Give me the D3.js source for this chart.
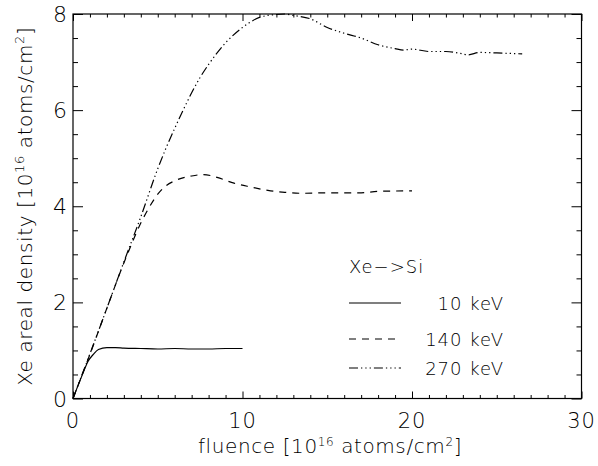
<html>
<meta charset="utf-8" />
<head>
<title>Xe areal density</title>
<script src="https://cdn.jsdelivr.net/npm/d3@7"></script>
<style>
	body { margin: 0; background: #fff; }
	svg text { font-family: "DejaVu Sans", sans-serif; font-weight: 200; fill: #000; }
</style>
<script>
// fluence [1e16 atoms/cm2] and areal density [1e16 atoms/cm2]
const fluence10 = [0, 0.5, 0.9, 1.2, 1.5, 2, 2.5, 3, 4, 5, 6, 7, 8, 9, 10];
const density10 = [0, 0.45, 0.78, 0.92, 1.02, 1.06, 1.06, 1.05, 1.04, 1.03, 1.04, 1.03, 1.03, 1.04, 1.04];

const fluence140 = [0, 1, 2, 3, 3.5, 4, 4.5, 5, 5.5, 6, 7, 7.7, 8.5, 9.5, 10.5, 11.5, 12.5, 13.5, 15, 17, 18, 20];
const density140 = [0, 0.92, 1.88, 2.82, 3.25, 3.65, 3.98, 4.25, 4.43, 4.53, 4.63, 4.66, 4.6, 4.48, 4.4, 4.33, 4.29, 4.27, 4.28, 4.28, 4.31, 4.32];

const fluence270 = [0, 1, 2, 3, 4, 5, 5.5, 6, 6.5, 7, 7.5, 8, 9, 10, 10.5, 11, 12, 12.5, 13, 14, 15, 16, 17, 18, 19, 19.5, 20, 21, 22, 23, 23.3, 24, 25, 26.5];
const density270 = [0, 0.93, 1.88, 2.84, 3.78, 4.78, 5.22, 5.62, 6.0, 6.36, 6.68, 6.95, 7.4, 7.72, 7.84, 7.93, 7.99, 8.0, 7.97, 7.9, 7.72, 7.6, 7.5, 7.36, 7.28, 7.25, 7.27, 7.22, 7.22, 7.17, 7.15, 7.2, 7.19, 7.17];

const seriesNames = ['10 keV', '140 keV', '270 keV'];
const xMajor = [0, 10, 20, 30];
const yMajor = [0, 2, 4, 6, 8];

window.onload = function() {
	let svg = d3.select('svg');
	let left = 73, right = 581.5, top = 14, bottom = 398.5;

	let xScale = d3.scaleLinear().domain([0, 30]).range([left, right]);
	let yScale = d3.scaleLinear().domain([0, 8]).range([bottom, top]);

	let xMinor = d3.range(0, 31, 1).filter(v => xMajor.indexOf(v) < 0);
	let yMinor = d3.range(0, 8.01, 0.5).filter(v => yMajor.indexOf(v) < 0);

	// ticks pointing inward on all four sides
	function addAxis(axis, tx, ty) {
		let g = svg.append('g').attr('transform', 'translate(' + tx + ',' + ty + ')').call(axis);
		g.selectAll('text').remove();
		g.select('.domain').remove();
		g.selectAll('line').attr('stroke', '#000').attr('stroke-width', 1);
	}
	addAxis(d3.axisBottom(xScale).tickValues(xMajor).tickSize(-7), 0, bottom);
	addAxis(d3.axisBottom(xScale).tickValues(xMinor).tickSize(-3.5), 0, bottom);
	addAxis(d3.axisTop(xScale).tickValues(xMajor).tickSize(-7), 0, top);
	addAxis(d3.axisTop(xScale).tickValues(xMinor).tickSize(-3.5), 0, top);
	addAxis(d3.axisLeft(yScale).tickValues(yMajor).tickSize(-10), left, 0);
	addAxis(d3.axisLeft(yScale).tickValues(yMinor).tickSize(-5), left, 0);
	addAxis(d3.axisRight(yScale).tickValues(yMajor).tickSize(-10), right, 0);
	addAxis(d3.axisRight(yScale).tickValues(yMinor).tickSize(-5), right, 0);

	// frame
	svg.append('rect')
	.attr('x', left).attr('y', top)
	.attr('width', right - left).attr('height', bottom - top)
	.attr('fill', 'none').attr('stroke', '#000').attr('stroke-width', 1.2);

	// tick labels
	svg.selectAll('text.xlab').data(xMajor).enter()
	.append('text').attr('class', 'xlab')
	.attr('x', d => xScale(d)).attr('y', 428)
	.attr('text-anchor', 'middle').style('font-size', '21px').style('letter-spacing', '1px')
	.text(d => d);

	svg.selectAll('text.ylab').data(yMajor).enter()
	.append('text').attr('class', 'ylab')
	.attr('x', 67).attr('y', d => yScale(d) + 8)
	.attr('text-anchor', 'end').style('font-size', '22px')
	.text(d => d);

	// axis titles
	let xt = svg.append('text').attr('x', 330).attr('y', 453)
	.attr('text-anchor', 'middle').style('font-size', '20px').style('letter-spacing', '0.6px');
	xt.append('tspan').text('fluence [10');
	xt.append('tspan').attr('dy', -7).style('font-size', '12px').text('16');
	xt.append('tspan').attr('dy', 7).text(' atoms/cm');
	xt.append('tspan').attr('dy', -7).style('font-size', '12px').text('2');
	xt.append('tspan').attr('dy', 7).text(']');

	let yt = svg.append('text')
	.attr('transform', 'translate(32,' + (top + bottom) / 2 + ') rotate(-90)')
	.attr('text-anchor', 'middle').style('font-size', '20px').style('letter-spacing', '0.6px');
	yt.append('tspan').text('Xe areal density [10');
	yt.append('tspan').attr('dy', -8).style('font-size', '13px').text('16');
	yt.append('tspan').attr('dy', 8).text(' atoms/cm');
	yt.append('tspan').attr('dy', -8).style('font-size', '13px').text('2');
	yt.append('tspan').attr('dy', 8).text(']');

	// curves
	let series = [
		{ x: fluence10, y: density10, dash: null },
		{ x: fluence140, y: density140, dash: '7,6' },
		{ x: fluence270, y: density270, dash: '9,3,1.3,3,1.3,3,1.3,3' }
	];
	let line = d3.line()
	.x(d => xScale(d[0]))
	.y(d => yScale(d[1]))
	.curve(d3.curveMonotoneX);

	series.forEach(s => {
		svg.append('path')
		.attr('d', line(d3.zip(s.x, s.y)))
		.attr('fill', 'none')
		.attr('stroke', '#000')
		.attr('stroke-width', 1.2)
		.attr('stroke-dasharray', s.dash);
	});

	// legend
	svg.append('text').attr('x', 349).attr('y', 273).style('font-size', '18px').style('letter-spacing', '1px').text('Xe\u2212>Si');
	series.forEach((s, i) => {
		let ly = [303, 339, 368][i];
		svg.append('line')
		.attr('x1', 349).attr('x2', 401).attr('y1', ly).attr('y2', ly)
		.attr('stroke', '#000').attr('stroke-width', 1.2)
		.attr('stroke-dasharray', s.dash);
		svg.append('text').attr('x', 504).attr('y', ly + 7)
		.attr('text-anchor', 'end').style('font-size', '18px').style('letter-spacing', '1px')
		.text(seriesNames[i]);
	});
}
</script>
</head>
<body>
<svg width="598" height="466"></svg>
</body>
</html>
